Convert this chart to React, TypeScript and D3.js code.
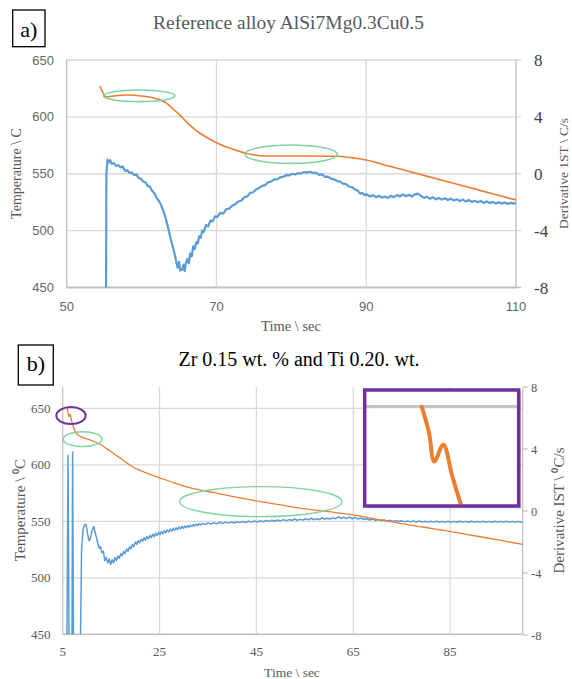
import React from 'react';
import * as d3 from 'd3';

// ---------- (a) Reference alloy AlSi7Mg0.3Cu0.5 ----------
const refTimeTicks = [50, 70, 90, 110];
const tempTicks = [450, 500, 550, 600, 650];
const derivTicks = [-8, -4, 0, 4, 8];

// [time s, temperature °C]
const refTemp: [number, number][] = [
  [54.45, 627.1], [55.25, 617.7], [56.5, 618.6], [58.0, 619.2], [60.2, 618.2], [61.5, 616.8], [62.5, 614.8],
  [63.35, 611.9], [64.2, 607.0], [65.1, 601.6], [66.4, 593.0], [67.8, 585.6], [69.0, 580.8], [70.0, 577.3],
  [72.2, 571.5], [74.5, 567.1], [76.7, 565.6], [81.2, 565.6], [86.0, 565.4], [88.0, 564.2], [90.0, 562.1],
  [93.0, 556.8], [96.0, 551.5], [100.0, 544.5], [104.0, 537.5], [107.0, 532.2], [110.0, 527.0],
];

// [time s, derivative °C/s]
const refDeriv: [number, number][] = [
  [55.25, -9], [55.3, 0.0], [55.45, 1.0], [55.6, 0.8], [55.8, 0.95], [56.0, 0.7], [56.3, 0.75], [56.6, 0.55],
  [56.9, 0.6], [57.2, 0.45], [57.5, 0.5], [57.8, 0.2], [58.1, 0.25], [58.4, 0.05], [58.7, 0.1], [59.0, -0.1],
  [59.3, -0.05], [59.6, -0.3], [59.9, -0.35], [60.2, -0.55], [60.5, -0.6], [60.8, -0.85], [61.1, -0.9],
  [61.4, -1.2], [61.7, -1.35], [62.0, -1.7], [62.3, -1.9], [62.6, -2.2], [62.9, -2.6], [63.2, -3.1],
  [63.5, -3.7], [63.8, -4.4], [64.1, -5.0], [64.4, -5.6], [64.6, -6.1], [64.8, -6.6], [65.0, -6.2],
  [65.15, -6.8], [65.4, -6.75], [65.6, -6.4], [65.75, -6.85], [65.9, -6.3], [66.1, -6.0], [66.3, -6.3],
  [66.5, -5.6], [66.7, -5.8], [66.9, -5.1], [67.1, -5.3], [67.3, -4.8], [67.5, -4.9], [67.7, -4.4],
  [67.9, -4.5], [68.1, -4.0], [68.3, -4.1], [68.6, -3.6], [68.9, -3.7], [69.2, -3.3], [69.5, -3.35],
  [69.8, -3.0], [70.1, -3.05], [70.5, -2.75], [70.9, -2.8], [71.3, -2.5], [71.7, -2.45], [72.1, -2.25],
  [72.5, -2.15], [72.9, -1.95], [73.3, -1.9], [73.7, -1.65], [74.1, -1.6], [74.5, -1.35], [74.9, -1.3],
  [75.3, -1.1], [75.7, -1.0], [76.1, -0.85], [76.5, -0.8], [76.9, -0.6], [77.3, -0.55], [77.7, -0.4],
  [78.1, -0.4], [78.5, -0.25], [78.9, -0.22], [79.3, -0.1], [79.7, -0.12], [80.1, 0.0], [80.5, -0.05],
  [80.9, 0.05], [81.3, 0.02], [81.7, 0.12], [82.1, 0.08], [82.5, 0.14], [82.9, 0.05], [83.3, 0.08],
  [83.7, -0.08], [84.1, -0.05], [84.5, -0.22], [84.9, -0.2], [85.3, -0.35], [85.7, -0.4], [86.1, -0.5],
  [86.5, -0.55], [86.9, -0.7], [87.3, -0.72], [87.7, -0.9], [88.1, -0.95], [88.5, -1.1], [88.9, -1.2],
  [89.2, -1.4], [89.5, -1.35], [89.8, -1.5], [90.1, -1.45], [90.5, -1.6], [90.9, -1.5], [91.3, -1.65],
  [91.7, -1.55], [92.1, -1.68], [92.5, -1.6], [92.9, -1.7], [93.3, -1.55], [93.7, -1.65], [94.1, -1.5],
  [94.5, -1.6], [94.9, -1.45], [95.3, -1.58], [95.7, -1.48], [96.1, -1.6], [96.5, -1.45], [96.9, -1.4],
  [97.3, -1.55], [97.7, -1.7], [98.1, -1.62], [98.5, -1.75], [98.9, -1.65], [99.3, -1.8], [99.7, -1.7],
  [100.1, -1.82], [100.5, -1.72], [100.9, -1.85], [101.3, -1.75], [101.7, -1.88], [102.1, -1.8],
  [102.5, -1.92], [102.9, -1.82], [103.3, -1.95], [103.7, -1.85], [104.1, -1.98], [104.5, -1.9],
  [104.9, -2.0], [105.3, -1.92], [105.7, -2.05], [106.1, -1.95], [106.5, -2.05], [106.9, -1.98],
  [107.3, -2.1], [107.7, -2.0], [108.1, -2.1], [108.5, -2.02], [108.9, -2.12], [109.3, -2.05],
  [109.7, -2.1], [110.0, -2.05],
];

// annotation ellipses: [centre time, centre temp, half-width s, half-height °C]
const refMarks: [number, number, number, number][] = [
  [59.68, 618.5, 4.78, 5.1],
  [79.97, 567.2, 6.17, 8.1],
];

// ---------- (b) Zr 0.15 wt.% and Ti 0.20 wt. ----------
const zrTimeTicks = [5, 25, 45, 65, 85];

const zrTemp: [number, number][] = [
  [5.9, 650], [6.1, 646.5], [6.25, 642.5], [6.5, 644.8], [6.75, 640.5], [7.0, 636.5], [7.4, 631],
  [7.9, 627.5], [8.5, 625.5], [9.0, 624.5], [10.0, 623], [11.0, 621.5], [12.0, 619.5], [13.0, 617.5],
  [14.0, 614.5], [15.0, 611.5], [16.0, 608.5], [17.0, 605.5], [18.0, 602.5], [19.5, 598], [21.0, 595],
  [23.0, 591.5], [25.0, 588.5], [28.0, 584], [31.0, 580], [33.3, 577.8], [36, 575.5], [40, 572],
  [45, 568], [50, 564.5], [55, 561], [60, 558.5], [65, 555.7], [70, 551.7], [75, 548], [80, 544.5],
  [85, 541], [90, 537.2], [95, 533.5], [100, 529.5],
];

const zrDeriv: [number, number][] = [
  [5.85, -10], [6.1, 3.6], [6.35, -10], [6.9, -10], [7.05, 3.8], [7.25, -10], [8.6, -10], [8.9, -2.5],
  [9.2, -1.2], [9.5, -0.9], [9.8, -0.85], [10.1, -1.4], [10.4, -1.9], [10.7, -1.8], [11.0, -1.3],
  [11.4, -1.0], [11.8, -1.5], [12.2, -2.0], [12.5, -2.4], [12.8, -2.3], [13.1, -2.7], [13.4, -2.6],
  [13.7, -3.2], [14.0, -3.0], [14.3, -3.35], [14.6, -3.1], [14.9, -3.45], [15.2, -3.15], [15.5, -3.35],
  [15.8, -3.0], [16.1, -3.2], [16.4, -2.9], [16.7, -3.05], [17.0, -2.75], [17.3, -2.9], [17.6, -2.6],
  [17.9, -2.75], [18.2, -2.45], [18.5, -2.6], [18.8, -2.3], [19.1, -2.45], [19.4, -2.15], [19.7, -2.3],
  [20.0, -2.0], [20.3, -2.15], [20.6, -1.9], [20.9, -2.05], [21.2, -1.82], [21.5, -1.95], [21.8, -1.72],
  [22.1, -1.88], [22.4, -1.65], [22.7, -1.8], [23.0, -1.58], [23.3, -1.72], [23.6, -1.5], [23.9, -1.65],
  [24.2, -1.44], [24.5, -1.58], [24.8, -1.38], [25.1, -1.52], [25.4, -1.33], [25.7, -1.46], [26.0, -1.28],
  [26.3, -1.4], [26.6, -1.22], [26.9, -1.35], [27.2, -1.17], [27.5, -1.3], [27.8, -1.12], [28.1, -1.25],
  [28.4, -1.08], [28.7, -1.2], [29.0, -1.04], [29.3, -1.16], [29.6, -1.0], [29.9, -1.12], [30.2, -0.97],
  [30.5, -1.08], [30.8, -0.94], [31.1, -1.04], [31.4, -0.91], [31.7, -1.0], [32.0, -0.88], [32.3, -0.97],
  [32.6, -0.85], [32.9, -0.94], [33.2, -0.82], [33.5, -0.9], [33.8, -0.8], [34.4, -0.87], [35.0, -0.77],
  [35.6, -0.85], [36.2, -0.75], [36.8, -0.83], [37.4, -0.73], [38.0, -0.8], [38.6, -0.72], [39.2, -0.78],
  [39.8, -0.7], [40.4, -0.77], [41.0, -0.69], [41.6, -0.75], [42.2, -0.68], [42.8, -0.74], [43.4, -0.66],
  [44.0, -0.72], [44.6, -0.65], [45.2, -0.71], [45.8, -0.63], [46.4, -0.69], [47.0, -0.61], [47.6, -0.67],
  [48.2, -0.6], [48.8, -0.66], [49.4, -0.58], [50.0, -0.64], [50.6, -0.56], [51.2, -0.62], [51.8, -0.55],
  [52.4, -0.6], [53.0, -0.5], [53.4, -0.6], [54.0, -0.54], [54.6, -0.58], [55.2, -0.5], [55.8, -0.57],
  [56.4, -0.46], [56.8, -0.56], [57.4, -0.5], [58.0, -0.55], [58.6, -0.42], [59.0, -0.53], [59.6, -0.47],
  [60.2, -0.52], [60.8, -0.44], [61.4, -0.5], [62.0, -0.36], [62.4, -0.48], [63.0, -0.4], [63.6, -0.49],
  [64.2, -0.38], [64.8, -0.5], [65.4, -0.42], [66.0, -0.52], [66.6, -0.45], [67.2, -0.55], [67.8, -0.5],
  [68.4, -0.58], [69.0, -0.52], [69.6, -0.6], [70.2, -0.55], [70.8, -0.62], [71.4, -0.57], [72.0, -0.65],
  [72.6, -0.6], [73.2, -0.67], [73.8, -0.62], [74.4, -0.68], [75.0, -0.63], [75.6, -0.7], [76.2, -0.64],
  [76.8, -0.7], [77.4, -0.65], [78.0, -0.71], [78.6, -0.65], [79.2, -0.71], [79.8, -0.66], [80.4, -0.72],
  [81.0, -0.66], [81.6, -0.72], [82.2, -0.66], [82.8, -0.72], [83.4, -0.67], [84.0, -0.72], [84.6, -0.66],
  [85.2, -0.72], [85.8, -0.67], [86.4, -0.73], [87.0, -0.66], [87.6, -0.72], [88.2, -0.67], [88.8, -0.73],
  [89.4, -0.66], [90.0, -0.72], [90.6, -0.67], [91.2, -0.72], [91.8, -0.66], [92.4, -0.72], [93.0, -0.67],
  [93.6, -0.73], [94.2, -0.66], [94.8, -0.72], [95.4, -0.67], [96.0, -0.72], [96.6, -0.66], [97.2, -0.72],
  [97.8, -0.67], [98.4, -0.72], [99.0, -0.67], [99.6, -0.72], [100.0, -0.69],
];

const zrGreenMarks: [number, number, number, number][] = [
  [9.12, 622.7, 4.0, 6.6],
  [45.9, 567.4, 16.75, 13.3],
];
const zrPurpleMark: [number, number, number, number] = [6.71, 643.6, 3.03, 7.5];

const SERIF = "'Liberation Serif','Times New Roman',serif";
const SANS = "'Liberation Sans',Arial,sans-serif";
const ORANGE = '#ED7D31';
const BLUE = '#5B9BD5';
const GREEN = '#7fd3a0';
const PURPLE = '#7030A0';
const GRID = '#d9d9d9';
const AXIS = '#bfbfbf';

export default function App() {
  // panel a scales
  const xA = d3.scaleLinear().domain([50, 110]).range([66.7, 516]);
  const yA = d3.scaleLinear().domain([450, 650]).range([287.5, 60]);
  const yA2 = d3.scaleLinear().domain([-8, 8]).range([287.5, 60]);
  // panel b scales
  const xB = d3.scaleLinear().domain([5, 100]).range([62.7, 522.7]);
  const yB = d3.scaleLinear().domain([450, 650]).range([634.3, 408.3]);
  const yB2 = d3.scaleLinear().domain([-8, 8]).range([635, 387]);
  const bTop = yB2(8);
  // inset (magnified start of panel b cooling curve)
  const inset = { x: 364.7, y: 390, w: 154, h: 116 };
  const xI = d3.scaleLinear().domain([4.35, 8.55]).range([366, 517]);
  const yI = d3.scaleLinear().domain([650, 636.3]).range([406.7, 507]);

  const lineAT = d3.line<[number, number]>().x(d => xA(d[0])).y(d => yA(d[1])).curve(d3.curveMonotoneX);
  const lineAD = d3.line<[number, number]>().x(d => xA(d[0])).y(d => yA2(d[1]));
  const lineBT = d3.line<[number, number]>().x(d => xB(d[0])).y(d => yB(d[1])).curve(d3.curveMonotoneX);
  const lineBD = d3.line<[number, number]>().x(d => xB(d[0])).y(d => yB2(d[1]));
  const lineIT = d3.line<[number, number]>().x(d => xI(d[0])).y(d => yI(d[1])).curve(d3.curveCatmullRom);

  const ell = (m: [number, number, number, number], xs: any, ys: any, color: string, sw: number, key: string) => (
    <ellipse key={key} cx={xs(m[0])} cy={ys(m[1])} rx={xs(m[0] + m[2]) - xs(m[0])} ry={ys(m[1]) - ys(m[1] + m[3])}
      fill="none" stroke={color} strokeWidth={sw} />
  );

  const [ax0, ax1] = xA.range();
  const [bx0, bx1] = xB.range();

  return (
    <svg width={572} height={679} style={{ position: 'absolute', left: 0, top: 0, background: '#fff' }}>
      <defs>
        <clipPath id="clipA"><rect x={ax0} y={yA(650)} width={ax1 - ax0} height={yA(450) - yA(650)} /></clipPath>
        <clipPath id="clipB"><rect x={bx0} y={bTop} width={bx1 - bx0} height={yB(450) - bTop} /></clipPath>
        <clipPath id="clipI"><rect x={inset.x + 1.5} y={inset.y + 1.5} width={inset.w - 3} height={inset.h - 3} /></clipPath>
      </defs>

      {/* ================= Panel a ================= */}
      <rect x={12.7} y={10} width={32.3} height={36.7} fill="none" stroke="#000" strokeWidth={1.3} />
      <text x={28.8} y={37} textAnchor="middle" fontFamily={SERIF} fontSize={22} fill="#000">a)</text>
      <text x={288.5} y={28.5} textAnchor="middle" fontFamily={SERIF} fontSize={19.5} fill="#595959">Reference alloy AlSi7Mg0.3Cu0.5</text>

      {tempTicks.map(t => (
        <line key={'ga' + t} x1={ax0} x2={ax1 + (t === 450 ? 0 : 5)} y1={yA(t)} y2={yA(t)} stroke={t === 450 ? AXIS : GRID} strokeWidth={t === 450 ? 2 : 1.3} />
      ))}
      <line x1={ax1} x2={ax1 + 5} y1={yA(450)} y2={yA(450)} stroke={AXIS} strokeWidth={1.3} />
      {refTimeTicks.map(t => (
        <line key={'gva' + t} x1={xA(t)} x2={xA(t)} y1={yA(650)} y2={yA(450)} stroke={t === 50 || t === 110 ? AXIS : GRID} strokeWidth={1.3} />
      ))}
      {tempTicks.map(t => (
        <text key={'la' + t} x={54} y={yA(t) + 4.5} textAnchor="end" fontFamily={SANS} fontSize={13} fill="#666">{t}</text>
      ))}
      {derivTicks.map(t => (
        <text key={'ra' + t} x={534} y={yA2(t) + 6} textAnchor="start" fontFamily={SERIF} fontSize={17} fill="#404040">{t}</text>
      ))}
      {refTimeTicks.map(t => (
        <text key={'xa' + t} x={xA(t)} y={311} textAnchor="middle" fontFamily={SANS} fontSize={13} fill="#666">{t}</text>
      ))}
      <text x={291} y={331} textAnchor="middle" fontFamily={SERIF} fontSize={14.5} fill="#595959">Time \ sec</text>
      <text transform="translate(21,173.5) rotate(-90)" textAnchor="middle" fontFamily={SERIF} fontSize={14} fill="#595959">Temperature \ C</text>
      <text transform="translate(567.5,173.5) rotate(-90)" textAnchor="middle" fontFamily={SERIF} fontSize={13.5} fill="#595959">Derivative 1ST \ C/s</text>

      <g clipPath="url(#clipA)">
        <path d={lineAD(refDeriv) || ''} fill="none" stroke={BLUE} strokeWidth={2.2} strokeLinejoin="round" />
        <path d={lineAT(refTemp) || ''} fill="none" stroke={ORANGE} strokeWidth={1.6} />
      </g>
      {refMarks.map((m, i) => ell(m, xA, yA, GREEN, 1.6, 'ea' + i))}

      {/* ================= Panel b ================= */}
      <rect x={18.3} y={345} width={35} height={40} fill="none" stroke="#000" strokeWidth={1.3} />
      <text x={35.8} y={371} textAnchor="middle" fontFamily={SERIF} fontSize={22} fill="#000">b)</text>
      <text x={299} y={366} textAnchor="middle" fontFamily={SERIF} fontSize={20} fill="#000">Zr 0.15 wt. % and Ti 0.20. wt.</text>

      {tempTicks.map(t => (
        <line key={'gb' + t} x1={bx0} x2={bx1} y1={yB(t)} y2={yB(t)} stroke={t === 450 ? AXIS : GRID} strokeWidth={t === 450 ? 1.6 : 1.2} />
      ))}
      {zrTimeTicks.map(t => (
        <line key={'gvb' + t} x1={xB(t)} x2={xB(t)} y1={bTop} y2={yB(450)} stroke={t === 5 ? AXIS : GRID} strokeWidth={1.2} />
      ))}
      <line x1={bx1} x2={bx1} y1={bTop} y2={yB(450)} stroke={AXIS} strokeWidth={1.2} />
      {derivTicks.map(t => (
        <line key={'tb' + t} x1={bx1} x2={bx1 + 5} y1={yB2(t)} y2={yB2(t)} stroke={AXIS} strokeWidth={1.2} />
      ))}
      {tempTicks.map(t => (
        <text key={'lb' + t} x={50.5} y={yB(t) + 4.5} textAnchor="end" fontFamily={SERIF} fontSize={13} fill="#595959">{t}</text>
      ))}
      {derivTicks.map(t => (
        <text key={'rb' + t} x={531} y={yB2(t) + 4.5} textAnchor="start" fontFamily={SERIF} fontSize={12.5} fill="#595959">{t}</text>
      ))}
      {zrTimeTicks.map(t => (
        <text key={'xb' + t} x={xB(t)} y={656} textAnchor="middle" fontFamily={SERIF} fontSize={13} fill="#595959">{t}</text>
      ))}
      <text x={292} y={677} textAnchor="middle" fontFamily={SERIF} fontSize={13.5} fill="#595959">Time \ sec</text>
      <text transform="translate(25,510) rotate(-90)" textAnchor="middle" fontFamily={SERIF} fontSize={15} fill="#595959">Temperature \ ⁰C</text>
      <text transform="translate(564,510.5) rotate(-90)" textAnchor="middle" fontFamily={SERIF} fontSize={15} fill="#595959">Derivative IST \ ⁰C/s</text>

      <g clipPath="url(#clipB)">
        <path d={lineBD(zrDeriv) || ''} fill="none" stroke={BLUE} strokeWidth={1.5} strokeLinejoin="round" />
        <path d={lineBT(zrTemp) || ''} fill="none" stroke={ORANGE} strokeWidth={1.3} />
      </g>
      {zrGreenMarks.map((m, i) => ell(m, xB, yB, GREEN, 1.4, 'eb' + i))}
      {ell(zrPurpleMark, xB, yB, PURPLE, 2, 'pb')}

      {/* inset: magnified start of the cooling curve */}
      <rect x={inset.x + 2.5} y={inset.y + 2.5} width={inset.w} height={inset.h} fill="#9a9a9a" opacity={0.45} />
      <rect x={inset.x} y={inset.y} width={inset.w} height={inset.h} fill="#fff" />
      <g clipPath="url(#clipI)">
        <line x1={inset.x} x2={inset.x + inset.w} y1={yI(650)} y2={yI(650)} stroke="#c4c4c4" strokeWidth={3.2} />
        <path d={lineIT(zrTemp.slice(0, 7)) || ''} fill="none" stroke={ORANGE} strokeWidth={4} strokeLinejoin="round" strokeLinecap="round" />
      </g>
      <rect x={inset.x} y={inset.y} width={inset.w} height={inset.h} fill="none" stroke={PURPLE} strokeWidth={3.5} />
    </svg>
  );
}
